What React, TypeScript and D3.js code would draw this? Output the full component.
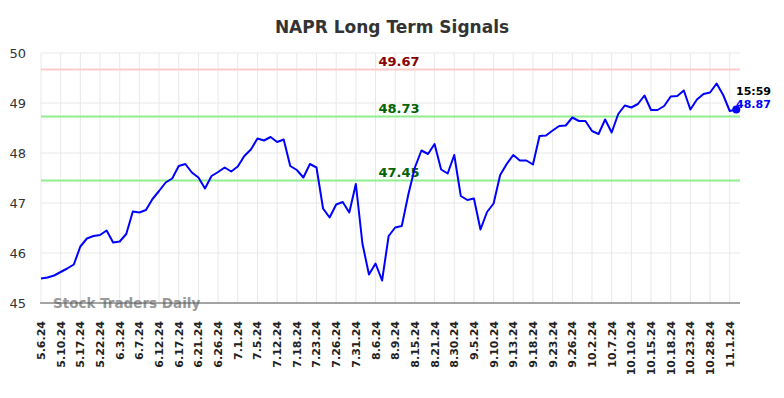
import React from 'react'
import * as d3 from 'd3'

const tickLabels = [
  '5.6.24', '5.10.24', '5.17.24', '5.22.24', '6.3.24', '6.7.24', '6.12.24', '6.17.24', '6.21.24',
  '6.26.24', '7.1.24', '7.5.24', '7.12.24', '7.18.24', '7.23.24', '7.26.24', '7.31.24', '8.6.24',
  '8.9.24', '8.15.24', '8.21.24', '8.30.24', '9.5.24', '9.10.24', '9.13.24', '9.18.24', '9.23.24',
  '9.26.24', '10.2.24', '10.7.24', '10.10.24', '10.15.24', '10.18.24', '10.23.24', '10.28.24', '11.1.24',
]

const prices = [
  45.49, 45.51, 45.55, 45.62, 45.69, 45.77, 46.13, 46.29, 46.34, 46.36,
  46.45, 46.21, 46.23, 46.38, 46.83, 46.81, 46.86, 47.08, 47.24, 47.41,
  47.49, 47.74, 47.78, 47.61, 47.51, 47.29, 47.54, 47.62, 47.71, 47.63,
  47.73, 47.94, 48.07, 48.29, 48.25, 48.32, 48.22, 48.27, 47.74, 47.66,
  47.51, 47.78, 47.71, 46.89, 46.71, 46.97, 47.02, 46.81, 47.38, 46.19,
  45.57, 45.79, 45.45, 46.34, 46.51, 46.54, 47.17, 47.71, 48.05, 47.98,
  48.18, 47.67, 47.59, 47.96, 47.14, 47.06, 47.09, 46.47, 46.82, 46.99,
  47.56, 47.78, 47.96, 47.85, 47.85, 47.77, 48.34, 48.35, 48.45, 48.54,
  48.55, 48.71, 48.64, 48.64, 48.44, 48.38, 48.67, 48.41, 48.78, 48.95,
  48.91, 48.98, 49.15, 48.86, 48.86, 48.94, 49.13, 49.14, 49.25, 48.87,
  49.07, 49.18, 49.21, 49.39, 49.16, 48.84, 48.87,
]

const yTicks = [45, 46, 47, 48, 49, 50]

const signals = [
  { value: 49.67, line: '#ffcccc', text: '#8b0000' },
  { value: 48.73, line: '#90ee90', text: '#006400' },
  { value: 47.45, line: '#90ee90', text: '#006400' },
]

const lastTime = '15:59'

export default function App() {
  const width = 784
  const height = 398
  const left = 41
  const right = 740
  const top = 53
  const bottom = 303
  const ticksEvery = 3

  const x = d3.scaleLinear().domain([0, 106]).range([left, 736.3])
  const y = d3.scaleLinear().domain([45, 50]).range([bottom, top])

  const line = d3.line<number>().x((_, i) => x(i)).y(d => y(d))
  const last = prices.length - 1

  return (
    <svg width={width} height={height} style={{ position: 'absolute', left: 0, top: 0, background: '#fff' }}
      fontFamily="'DejaVu Sans', sans-serif">
      <text x={392} y={33} textAnchor="middle" fontSize={17} fontWeight="bold" fill="#333">NAPR Long Term Signals</text>

      {/* grid */}
      {yTicks.map(t => (
        <g key={t}>
          <line x1={left} x2={right} y1={y(t)} y2={y(t)} stroke="#e8e8e8" strokeWidth={1} />
          <text x={26} y={y(t) + 5} textAnchor="end" fontSize={13} fill="#333">{t}</text>
        </g>
      ))}
      {tickLabels.map((lab, i) => {
        const tx = x(i * ticksEvery)
        return (
          <g key={lab}>
            <line x1={tx} x2={tx} y1={top} y2={bottom} stroke="#e8e8e8" strokeWidth={1} />
            <text transform={`translate(${tx + 4},321) rotate(-90)`} textAnchor="end" fontSize={11}
              fontWeight="bold" fill="#222">{lab}</text>
          </g>
        )
      })}

      {/* signal levels */}
      {signals.map(s => (
        <g key={s.value}>
          <line x1={left} x2={right} y1={y(s.value)} y2={y(s.value)} stroke={s.line} strokeWidth={2} />
          <text x={399} y={y(s.value) - 4} textAnchor="middle" fontSize={13} fontWeight="bold" fill={s.text}>
            {s.value.toFixed(2)}
          </text>
        </g>
      ))}

      <text x={53} y={308} fontSize={13.5} fontWeight="bold" fill="#999">Stock Traders Daily</text>
      <line x1={left - 1} x2={right} y1={bottom} y2={bottom} stroke="#555" strokeWidth={1} />

      <path d={line(prices) || ''} fill="none" stroke="#0000ff" strokeWidth={2} strokeLinejoin="round" />
      <circle cx={x(last)} cy={y(prices[last])} r={4} fill="#0000ff" />

      <text x={736} y={95} fontSize={11} fontWeight="bold" fill="#000">{lastTime}</text>
      <text x={736} y={108} fontSize={11} fontWeight="bold" fill="#0000ff">{prices[last].toFixed(2)}</text>
    </svg>
  )
}
